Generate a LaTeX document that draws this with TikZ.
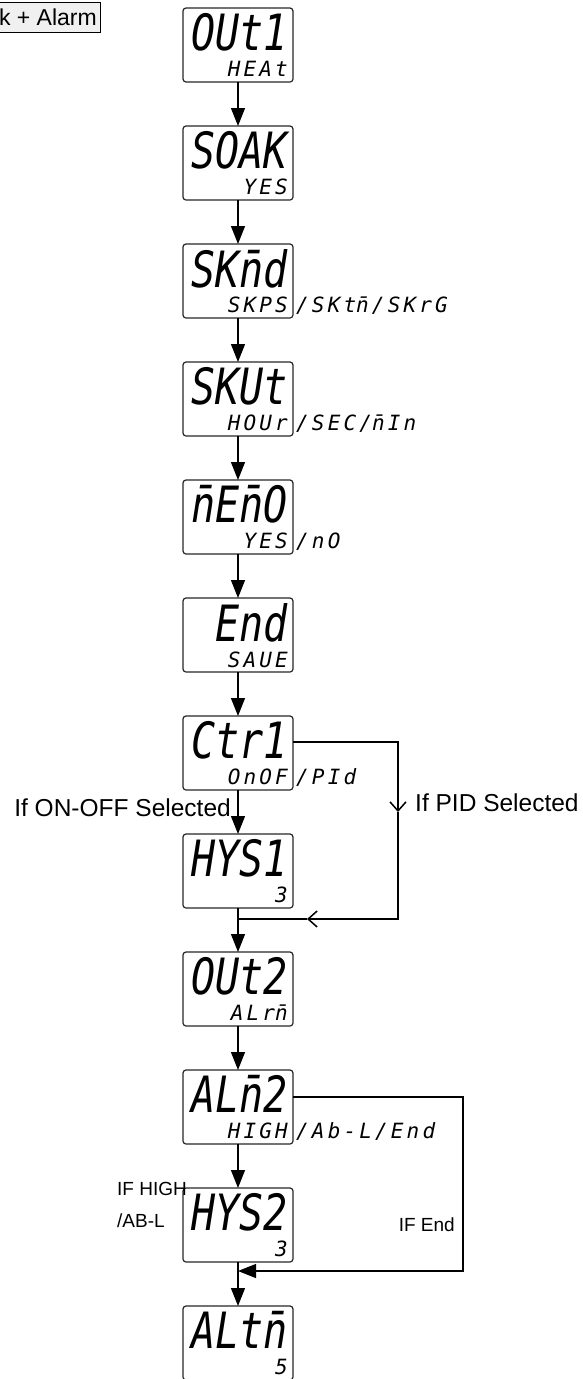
\documentclass[tikz,border=0pt]{standalone}
\usepackage{fontspec}
\setmainfont{Liberation Sans}
\newfontfamily\lcdfont{DejaVu Sans Mono}[FakeStretch=0.8]
\newfontfamily\lcdsmallfont{DejaVu Sans Mono}[LetterSpace=15]
\newcommand\nbar{\accent"00AF n}
\usetikzlibrary{positioning,arrows.meta}

\begin{document}
\begin{tikzpicture}[x=1pt,y=1pt,node distance=44pt,
  panel/.style={draw=black!85,line width=1.2pt,rounded corners=3pt,minimum width=110pt,minimum height=74pt,inner sep=0pt,outer sep=0pt},
  bigseg/.style={anchor=north east,inner sep=0pt,font=\lcdfont\itshape\fontsize{50}{50}\selectfont},
  smallseg/.style={anchor=base east,inner sep=0pt,font=\lcdsmallfont\itshape\fontsize{21}{21}\selectfont},
  flow/.style={line width=1.2pt,-{Triangle[length=18pt,width=14pt]}},
  openflow/.style={line width=1.2pt,-{Straight Barb[length=9pt,width=16pt,line width=1.5pt]}},
  cond/.style={inner sep=0pt,font=\fontsize{24.5}{28}\selectfont},
  condsmall/.style={inner sep=0pt,align=left,font=\fontsize{19}{32}\selectfont}]
\useasboundingbox (0,0) rectangle (583,-1379);

% tab at the top left
\draw[fill=black!6,line width=1pt] (-10,-2) rectangle (100,-32);
\node[cond,anchor=east,font=\fontsize{23}{27}\selectfont] (tab) at (97,-17) {k + Alarm};

% display panels
\node[panel] (out1) at (238,-45) {};
\node[panel,below=of out1] (soak) {};
\node[panel,below=of soak] (skmd) {};
\node[panel,below=of skmd] (skut) {};
\node[panel,below=of skut] (memo) {};
\node[panel,below=of memo] (endsave) {};
\node[panel,below=of endsave] (ctr1) {};
\node[panel,below=of ctr1] (hys1) {};
\node[panel,below=of hys1] (out2) {};
\node[panel,below=of out2] (alm2) {};
\node[panel,below=of alm2] (hys2) {};
\node[panel,below=of hys2] (altm) {};

% display texts
\node[bigseg] (out1-par) at ([shift={(-5pt,-5pt)}]out1.north east) {OUt1};
\node[smallseg] (out1-val) at ([shift={(-5pt,6pt)}]out1.south east) {HEAt};
\node[bigseg] (soak-par) at ([shift={(-5pt,-5pt)}]soak.north east) {SOAK};
\node[smallseg] (soak-val) at ([shift={(-5pt,6pt)}]soak.south east) {YES};
\node[bigseg] (skmd-par) at ([shift={(-5pt,-5pt)}]skmd.north east) {SK\nbar d};
\node[smallseg] (skmd-val) at ([shift={(-5pt,6pt)}]skmd.south east) {SKPS};
\node[smallseg,anchor=base west] (skmd-alt) at ([xshift=3pt]skmd.east |- skmd-val.base) {/SKt\nbar/SKrG};
\node[bigseg] (skut-par) at ([shift={(-5pt,-5pt)}]skut.north east) {SKUt};
\node[smallseg] (skut-val) at ([shift={(-5pt,6pt)}]skut.south east) {HOUr};
\node[smallseg,anchor=base west] (skut-alt) at ([xshift=3pt]skut.east |- skut-val.base) {/SEC/\nbar In};
\node[bigseg] (memo-par) at ([shift={(-5pt,-5pt)}]memo.north east) {\nbar E\nbar O};
\node[smallseg] (memo-val) at ([shift={(-5pt,6pt)}]memo.south east) {YES};
\node[smallseg,anchor=base west] (memo-alt) at ([xshift=3pt]memo.east |- memo-val.base) {/nO};
\node[bigseg] (endsave-par) at ([shift={(-5pt,-5pt)}]endsave.north east) {End};
\node[smallseg] (endsave-val) at ([shift={(-5pt,5pt)}]endsave.south east) {SAUE};
\node[bigseg] (ctr1-par) at ([shift={(-5pt,-5pt)}]ctr1.north east) {Ctr1};
\node[smallseg] (ctr1-val) at ([shift={(-5pt,6pt)}]ctr1.south east) {OnOF};
\node[smallseg,anchor=base west] (ctr1-alt) at ([xshift=3pt]ctr1.east |- ctr1-val.base) {/PId};
\node[bigseg] (hys1-par) at ([shift={(-5pt,-5pt)}]hys1.north east) {HYS1};
\node[smallseg] (hys1-val) at ([shift={(-5pt,6pt)}]hys1.south east) {3};
\node[bigseg] (out2-par) at ([shift={(-5pt,-5pt)}]out2.north east) {OUt2};
\node[smallseg] (out2-val) at ([shift={(-5pt,6pt)}]out2.south east) {ALr\nbar};
\node[bigseg] (alm2-par) at ([shift={(-5pt,-5pt)}]alm2.north east) {AL\nbar 2};
\node[smallseg] (alm2-val) at ([shift={(-5pt,6pt)}]alm2.south east) {HIGH};
\node[smallseg,anchor=base west] (alm2-alt) at ([xshift=3pt]alm2.east |- alm2-val.base) {/Ab-L/End};
\node[bigseg] (hys2-par) at ([shift={(-5pt,-5pt)}]hys2.north east) {HYS2};
\node[smallseg] (hys2-val) at ([shift={(-5pt,6pt)}]hys2.south east) {3};
\node[bigseg] (altm-par) at ([shift={(-5pt,-5pt)}]altm.north east) {ALt\nbar};
\node[smallseg] (altm-val) at ([shift={(-5pt,6pt)}]altm.south east) {5};

% main flow
\draw[flow] (out1) -- (soak);
\draw[flow] (soak) -- (skmd);
\draw[flow] (skmd) -- (skut);
\draw[flow] (skut) -- (memo);
\draw[flow] (memo) -- (endsave);
\draw[flow] (endsave) -- (ctr1);
\draw[flow] (ctr1) -- (hys1);
\coordinate (merge1) at ([yshift=-11pt]hys1.south);
\draw[line width=1.2pt] (hys1) -- (merge1);
\draw[flow] (merge1) -- (out2);
\draw[flow] (out2) -- (alm2);
\draw[flow] (alm2) -- (hys2);
\coordinate (merge2) at ([yshift=-9pt]hys2.south);
\draw[line width=1.2pt] (hys2) -- (merge2);
\draw[flow] (merge2) -- (altm);

% PID branch
\coordinate (pidtop) at ([yshift=-26pt]ctr1.north east);
\coordinate (pidright) at ([xshift=105pt]pidtop);
\coordinate (pidarrow) at ([yshift=-70pt]pidright);
\coordinate (pidjoin) at (pidright |- merge1);
\coordinate (pidleft) at ([xshift=69pt]merge1);
\draw[openflow] (pidtop) -- (pidright) -- (pidarrow);
\draw[openflow] (pidarrow) -- (pidjoin) -- (pidleft);
\draw[line width=1.2pt] (pidleft) -- (merge1);

% End branch
\coordinate (endtop) at ([yshift=-27pt]alm2.north east);
\coordinate (endright) at ([xshift=170pt]endtop);
\draw[flow] (endtop) -- (endright) |- (merge2);

% conditions
\node[cond,anchor=east] (onoff-lbl) at ([shift={(-7pt,-18pt)}]ctr1.south) {If ON-OFF Selected};
\node[cond,anchor=west] (pid-lbl) at ([shift={(17pt,9pt)}]pidarrow) {If PID Selected};
\node[condsmall,anchor=north west] (high-lbl) at ([shift={(-121pt,-38pt)}]alm2.south) {IF HIGH\\/AB-L};
\node[condsmall,anchor=east] (end-lbl) at ([xshift=-8pt]endright |- hys2.center) {IF End};
\end{tikzpicture}
\end{document}
